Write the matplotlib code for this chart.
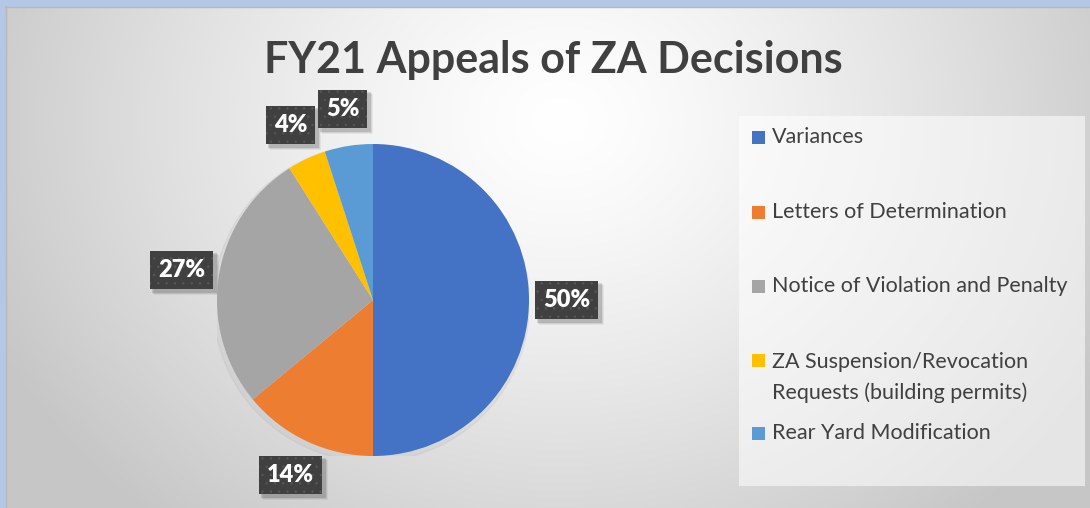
import matplotlib.pyplot as plt
import numpy as np
from matplotlib.patches import Rectangle

# Dados do gráfico
categorias = ["Variances", "Letters of Determination", "Notice of Violation and Penalty",
              "ZA Suspension/Revocation\nRequests (building permits)", "Rear Yard Modification"]
percentuais = [50, 14, 27, 4, 5]
cores = ["#4472c4", "#ed7d31", "#a5a5a5", "#ffc000", "#5b9bd5"]
titulo = "FY21 Appeals of ZA Decisions"

W, H = 1090, 508
fig = plt.figure(figsize=(W / 100, H / 100), dpi=100)
plt.rcParams["hatch.linewidth"] = 0.5

# Fundo com gradiente radial (eixo em pixels)
bg = fig.add_axes([0, 0, 1, 1])
bg.set_xlim(0, W)
bg.set_ylim(H, 0)
bg.axis("off")
yy, xx = np.mgrid[0:H, 0:W]
d = np.sqrt(((xx - 560) / 620.0) ** 2 + ((yy - 120) / 520.0) ** 2)
val = 1.0 - 0.22 * np.clip(d, 0, 1) ** 1.3
bg.imshow(np.dstack([val, val, val]), extent=(0, W, H, 0), aspect="auto", zorder=0)

# Moldura azul clara (topo e esquerda)
bg.add_patch(Rectangle((0, 0), W, 6, color="#b4c7e7", zorder=1))
bg.add_patch(Rectangle((0, 0), 5, H, color="#b4c7e7", zorder=1))
bg.plot([5, W], [6.5, 6.5], color="#b8b8b8", lw=1, zorder=1)
bg.plot([5.5, 5.5], [6, H], color="#b8b8b8", lw=1, zorder=1)

# Título
bg.text(553, 60, titulo, ha="center", va="center", fontsize=31, fontweight="bold",
        family=["Lato", "DejaVu Sans"], color="#404040", zorder=3)

# Caixa da legenda
bg.add_patch(Rectangle((739, 116), 346, 370, facecolor="white", alpha=0.55,
                       edgecolor="none", zorder=1))
linhas_y = [138, 213, 287, 361, 434]
for i, (cor, cat, y) in enumerate(zip(cores, categorias, linhas_y)):
    bg.add_patch(Rectangle((752, y - 7), 13, 13, facecolor=cor, edgecolor="none", zorder=3))
    if "\n" in cat:
        bg.text(772, y - 9, cat, ha="left", va="top", fontsize=15.5,
                family=["Lato", "DejaVu Sans"], color="#404040", linespacing=1.6, zorder=3)
    else:
        bg.text(772, y - 1, cat, ha="left", va="center", fontsize=15.5,
                family=["Lato", "DejaVu Sans"], color="#404040", zorder=3)

# Pizza
cx, cy, r = 373, 300, 156
ax = fig.add_axes([(cx - r) / W, (H - cy - r) / H, 2 * r / W, 2 * r / H])
ax.set_zorder(2)
# sombra leve
ax.add_patch(plt.Circle((-0.01, -0.02), 1.015, color="black", alpha=0.035, zorder=0))
wedges, _ = ax.pie(percentuais, colors=cores, startangle=90, counterclock=False,
                   radius=1, wedgeprops=dict(linewidth=0))
ax.set_xlim(-1, 1)
ax.set_ylim(-1, 1)
ax.axis("off")

# Rótulos de dados
rotulos = []
for w, p in zip(wedges, percentuais):
    ang = np.deg2rad((w.theta1 + w.theta2) / 2)
    x, y = 1.24 * np.cos(ang), 1.24 * np.sin(ang)
    t = ax.annotate(f"{p}%", (x, y), ha="center", va="center", fontsize=17, fontweight="heavy",
                    family=["Lato", "DejaVu Sans"], color="white",
                    bbox=dict(boxstyle="square,pad=0.34", facecolor="#404040",
                              edgecolor="#575757", linewidth=0, hatch=".."),
                    annotation_clip=False, zorder=5)
    rotulos.append(t)

# Sombras das caixas (desenhadas no eixo de fundo, em pixels)
fig.canvas.draw()
for t in rotulos:
    bb = t.get_bbox_patch().get_window_extent()
    for k, a in [(5, 0.05), (4, 0.08), (3, 0.12)]:
        bg.add_patch(Rectangle((bb.x0 + k - 1, H - bb.y1 + k - 1), bb.width + 2, bb.height + 2,
                               facecolor="black", alpha=a, edgecolor="none", zorder=4))

fig.savefig("out.png", dpi=100)
